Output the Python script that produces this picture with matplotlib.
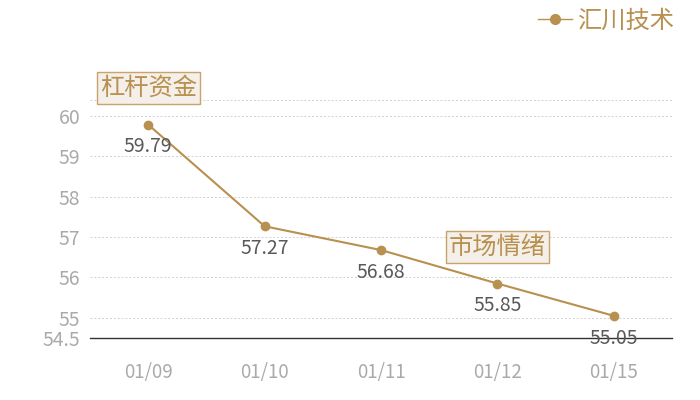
import matplotlib
matplotlib.use("Agg")
import matplotlib.pyplot as plt
from matplotlib.lines import Line2D

plt.rcParams['font.family'] = ['Noto Sans CJK SC', 'DejaVu Sans']

categories = ["01/09", "01/10", "01/11", "01/12", "01/15"]
values = [59.79, 57.27, 56.68, 55.85, 55.05]
series_name = "汇川技术"
yticks = [54.5, 55, 56, 57, 58, 59, 60]
notes = ["杠杆资金", "市场情绪"]
note_pos = [(0, 60.7), (3, 56.76)]

gold = "#b8904f"
fig = plt.figure(figsize=(7, 4), dpi=100)
ax = fig.add_axes([90/700, 62/400, 582/700, 238/400])
x = list(range(len(categories)))
ax.plot(x, values, color=gold, lw=1.5, marker='o', ms=6, zorder=3)
for xi, v in zip(x, values):
    ax.annotate(f"{v:.2f}", (xi, v), xytext=(0, -16), textcoords='offset points',
                ha='center', va='center', fontsize=14, color='#595959', zorder=4)

ax.set_xlim(-0.5, len(categories) - 0.5)
ax.set_ylim(54.5, 60.4)
ax.set_yticks(yticks)
ax.set_yticklabels([f"{t:g}" for t in yticks])
ax.set_xticks(x)
ax.set_xticklabels(categories)
for t in [55, 56, 57, 58, 59, 60, 60.4]:
    ax.axhline(t, color='#d0d0d0', lw=0.7, ls=(0, (2, 2)), zorder=1)
for s in ['top', 'right', 'left']:
    ax.spines[s].set_visible(False)
ax.spines['bottom'].set_color('#333333')
ax.spines['bottom'].set_linewidth(1.0)
ax.tick_params(axis='both', length=0, colors='#aaaaaa', labelsize=14)
ax.tick_params(axis='x', pad=17, labelsize=13.5)
ax.tick_params(axis='y', pad=7)

for txt, (px, py) in zip(notes, note_pos):
    ax.text(px, py, txt, ha='center', va='center', fontsize=17.5, color=gold,
            bbox=dict(boxstyle='square,pad=0.12', fc='#f4efe8', ec='#c9a36c', lw=1),
            clip_on=False, zorder=5)

handle = Line2D([], [], color=gold, lw=1.0, marker='o', ms=7)
fig.legend([handle], [series_name], loc='upper right', bbox_to_anchor=(0.995, 1.035),
           frameon=False, fontsize=17.5, labelcolor=gold, handlelength=1.4,
           handletextpad=0.25)

fig.savefig("out.png", dpi=100)
